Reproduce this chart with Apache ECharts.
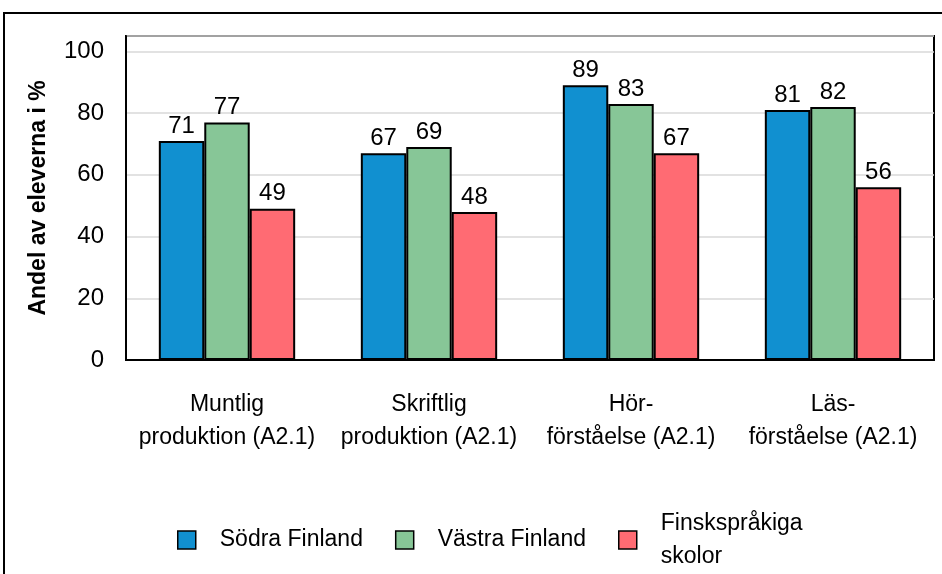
<!DOCTYPE html>
<html>
<head>
<meta charset="utf-8">
<script src="https://cdn.jsdelivr.net/npm/echarts@6/dist/echarts.min.js"></script>
<style>
html, body { margin: 0; padding: 0; background: #fff; }
#chart { width: 942px; height: 574px; }
</style>
</head>
<body>
<div id="chart"></div>
<script>
var categories = ['Muntlig\nproduktion (A2.1)', 'Skriftlig\nproduktion (A2.1)', 'Hör-\nförståelse (A2.1)', 'Läs-\nförståelse (A2.1)'];
var sodra = [71, 67, 89, 81];
var vastra = [77, 69, 83, 82];
var finsk = [49, 48, 67, 56];
var seriesNames = ['Södra Finland', 'Västra Finland', 'Finskspråkiga skolor'];
var colors = ['#1190d0', '#87c697', '#ff6b73'];

var font = '"Liberation Sans", Arial, sans-serif';

function makeSeries(name, data, color) {
    return {
        name: name,
        type: 'bar',
        data: data,
        barGap: 0,
        barCategoryGap: '32.5%',
        itemStyle: { color: color, borderColor: '#000', borderWidth: 2 },
        label: {
            show: true,
            position: 'top',
            distance: 3,
            color: '#000',
            fontFamily: font,
            fontSize: 24
        }
    };
}

var myChart = echarts.init(document.getElementById('chart'));
var option = {
    animation: false,
    color: colors,
    graphic: [{
        type: 'rect',
        shape: { x: 4, y: 13, width: 1000, height: 1000 },
        style: { fill: 'none', stroke: '#000', lineWidth: 2 },
        z: -1
    }],
    grid: {
        left: 126, right: 8, top: 36, bottom: 214,
        show: true, borderColor: '#000', borderWidth: 2
    },
    legend: {
        data: seriesNames,
        left: 172,
        top: 502,
        itemWidth: 18,
        itemHeight: 18,
        itemGap: 32,
        icon: 'rect',
        itemStyle: { borderColor: '#000', borderWidth: 1.5 },
        formatter: function (n) { return n === 'Finskspråkiga skolor' ? 'Finskspråkiga\nskolor' : n; },
        textStyle: {
            color: '#000', fontFamily: font, fontSize: 23, lineHeight: 33,
            padding: [0, 0, 0, 19]
        }
    },
    xAxis: {
        type: 'category',
        data: categories,
        axisTick: { show: false },
        axisLine: { lineStyle: { color: '#000', width: 2 } },
        axisLabel: {
            color: '#000', fontFamily: font, fontSize: 23, lineHeight: 33,
            margin: 28, interval: 0
        }
    },
    yAxis: {
        type: 'value',
        min: 0, max: 105, interval: 20,
        name: 'Andel av eleverna i %',
        nameLocation: 'middle',
        nameGap: 76,
        nameTextStyle: { color: '#000', fontFamily: font, fontSize: 23, fontWeight: 'bold' },
        axisLine: { show: true, lineStyle: { color: '#000', width: 2 } },
        axisTick: { show: false },
        splitLine: { lineStyle: { color: '#d9d9d9', width: 1.5 } },
        axisLabel: {
            color: '#000', fontFamily: font, fontSize: 24, margin: 22,
            formatter: function (v) { return v % 20 === 0 ? String(v) : ''; }
        }
    },
    series: [
        makeSeries(seriesNames[0], sodra, colors[0]),
        makeSeries(seriesNames[1], vastra, colors[1]),
        makeSeries(seriesNames[2], finsk, colors[2])
    ]
};
myChart.setOption(option);
</script>
</body>
</html>
